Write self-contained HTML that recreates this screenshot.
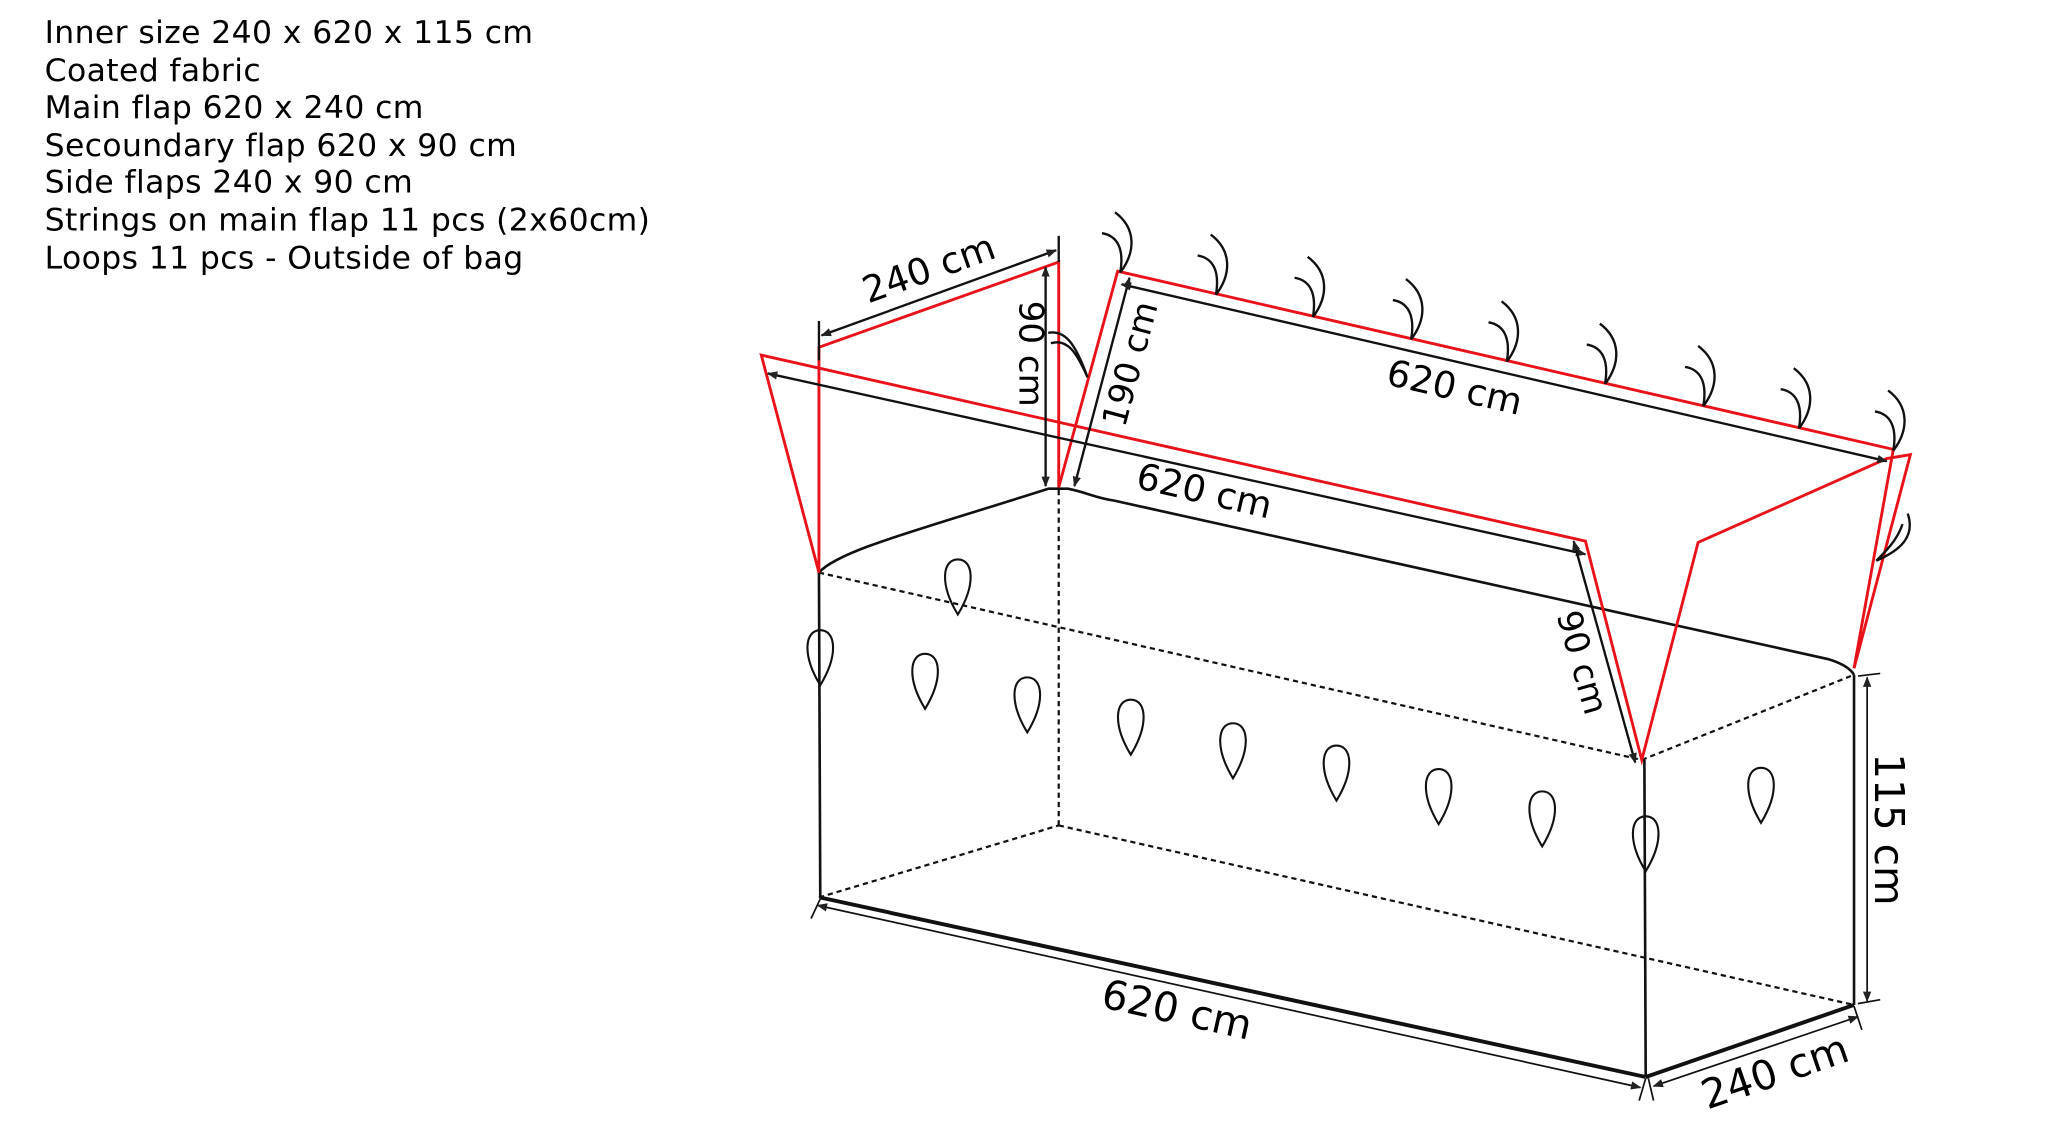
<!DOCTYPE html>
<html><head><meta charset="utf-8"><style>
html,body{margin:0;padding:0;background:#fff;}
svg{display:block;}
text{font-family:"DejaVu Sans","Liberation Sans",sans-serif;fill:#000;}
</style></head><body>
<svg width="2048" height="1134" viewBox="0 0 1563 865.5" xmlns="http://www.w3.org/2000/svg">
<defs>
<marker id="a" viewBox="0 0 10 10" refX="9" refY="5" markerWidth="8" markerHeight="8" orient="auto-start-reverse" markerUnits="userSpaceOnUse"><path d="M0,1 L10,5 L0,9 Z" fill="#222"/></marker>
<g id="drop"><path d="M0,21 C-14,-2 -12,-21 0,-21 C12,-21 14,-2 0,21 Z" fill="none" stroke="#111" stroke-width="1.6"/></g>
<g id="hook"><path d="M0,0 C12,-16 12,-34 -4,-46 M0,0 C3,-18 -2,-28 -14,-30" fill="none" stroke="#111" stroke-width="1.8"/></g>
</defs>
<g font-size="24" letter-spacing="0.3">
<text x="34" y="33">Inner size 240 x 620 x 115 cm</text>
<text x="34" y="62">Coated fabric</text>
<text x="34" y="90">Main flap 620 x 240 cm</text>
<text x="34" y="119">Secoundary flap 620 x 90 cm</text>
<text x="34" y="147">Side flaps 240 x 90 cm</text>
<text x="34" y="176">Strings on main flap 11 pcs (2x60cm)</text>
<text x="34" y="205">Loops 11 pcs - Outside of bag</text>
</g>
<g fill="none" stroke="#111" stroke-width="1.7" stroke-dasharray="4,3">
<line x1="808" y1="374" x2="808" y2="630"/>
<line x1="625" y1="685" x2="808" y2="630"/>
<line x1="808" y1="630" x2="1415" y2="767"/>
<line x1="625" y1="437" x2="1253" y2="580"/>
<line x1="1253" y1="580" x2="1415" y2="515"/>
</g>
<g fill="none" stroke="#111" stroke-width="2">
<line x1="625" y1="437" x2="626" y2="685"/>
<line x1="1255" y1="580" x2="1256" y2="822"/>
<line x1="1415" y1="515" x2="1415" y2="767"/>
<line x1="626" y1="685" x2="1256" y2="822" stroke-width="3"/>
<line x1="1256" y1="822" x2="1415" y2="767" stroke-width="3"/>
<path d="M625,437 C640,420 700,405 800,373 L815,373 C830,376 836,380 850,382 L1395,503 C1405,506 1412,510 1415,515"/>
</g>
<g fill="none" stroke="#e8131a" stroke-width="2.2">
<polyline points="625,437 625,265 808,200 808,372"/>
<polyline points="625,437 581,271 1210,413 1253,580 1296,414 1440,350 1458,347 1415,510 1445,343"/>
<polyline points="808,372 853,207 1445,343"/>
</g>
<g fill="none" stroke="#111" stroke-width="1.8">
<line x1="625" y1="245" x2="625" y2="275"/>
<line x1="808" y1="180" x2="808" y2="200"/>
<line x1="627" y1="256" x2="806" y2="191" marker-start="url(#a)" marker-end="url(#a)"/>
<line x1="798" y1="204" x2="798" y2="371" marker-start="url(#a)" marker-end="url(#a)"/>
<line x1="820" y1="371" x2="862" y2="212" marker-start="url(#a)" marker-end="url(#a)"/>
<line x1="856" y1="217" x2="1440" y2="352" marker-start="url(#a)" marker-end="url(#a)"/>
<line x1="586" y1="285" x2="1210" y2="423" marker-start="url(#a)" marker-end="url(#a)"/>
<line x1="1201" y1="413" x2="1248" y2="582" marker-start="url(#a)" marker-end="url(#a)"/>
<line x1="1425" y1="517" x2="1425" y2="764" stroke-width="1.3" marker-start="url(#a)" marker-end="url(#a)"/>
<line x1="1418" y1="516" x2="1435" y2="514" stroke-width="1.3"/>
<line x1="1418" y1="766" x2="1435" y2="763" stroke-width="1.3"/>
<line x1="624" y1="691" x2="1252" y2="830" stroke-width="1.3" marker-start="url(#a)" marker-end="url(#a)"/>
<line x1="626" y1="686" x2="619" y2="701" stroke-width="1.3"/>
<line x1="1256" y1="823" x2="1251" y2="840" stroke-width="1.3"/>
<line x1="1258" y1="823" x2="1262" y2="840" stroke-width="1.3"/>
<line x1="1262" y1="829" x2="1418" y2="776" stroke-width="1.3" marker-start="url(#a)" marker-end="url(#a)"/>
<line x1="1415" y1="768" x2="1421" y2="786" stroke-width="1.3"/>
</g>
<g font-size="28">
<text transform="translate(712,214) rotate(-19.6)" text-anchor="middle">240 cm</text>
<text transform="translate(778,270) rotate(90)" text-anchor="middle" font-size="26">90 cm</text>
<text transform="translate(871,280) rotate(-75)" text-anchor="middle" font-size="26">190 cm</text>
<text transform="translate(1108,305) rotate(13)" text-anchor="middle">620 cm</text>
<text transform="translate(917,384) rotate(13)" text-anchor="middle">620 cm</text>
<text transform="translate(1199,508) rotate(74)" text-anchor="middle" font-size="26">90 cm</text>
<text transform="translate(1431,633) rotate(90)" text-anchor="middle" font-size="31">115 cm</text>
<text transform="translate(896,781) rotate(12.5)" text-anchor="middle" font-size="31">620 cm</text>
<text transform="translate(1358,828) rotate(-19)" text-anchor="middle" font-size="31">240 cm</text>
</g>
<use href="#hook" x="855" y="208"/>
<use href="#hook" x="928" y="225"/>
<use href="#hook" x="1002" y="242"/>
<use href="#hook" x="1077" y="259"/>
<use href="#hook" x="1150" y="276"/>
<use href="#hook" x="1225" y="293"/>
<use href="#hook" x="1300" y="310"/>
<use href="#hook" x="1373" y="327"/>
<use href="#hook" x="1445" y="344"/>
<path d="M830,288 C822,270 815,258 802,262 M830,288 C820,260 812,252 800,254" fill="none" stroke="#111" stroke-width="1.8"/>
<path d="M1432,428 C1450,420 1462,410 1456,392 M1432,428 C1440,420 1448,412 1452,400" fill="none" stroke="#111" stroke-width="1.8"/>
<use href="#drop" x="731" y="448"/>
<use href="#drop" x="626" y="502"/>
<use href="#drop" x="706" y="520"/>
<use href="#drop" x="784" y="538"/>
<use href="#drop" x="863" y="555"/>
<use href="#drop" x="941" y="573"/>
<use href="#drop" x="1020" y="590"/>
<use href="#drop" x="1098" y="608"/>
<use href="#drop" x="1177" y="625"/>
<use href="#drop" x="1256" y="644"/>
<use href="#drop" x="1344" y="607"/>
</svg>
</body></html>
